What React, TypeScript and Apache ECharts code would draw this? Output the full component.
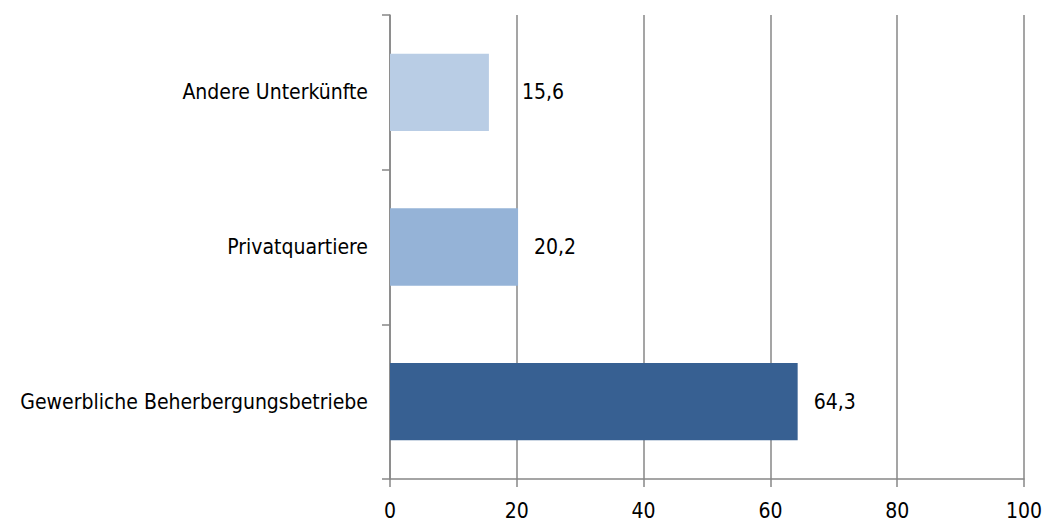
import React, { useEffect, useRef } from "react";
import * as echarts from "echarts";

const categories = ["Gewerbliche Beherbergungsbetriebe", "Privatquartiere", "Andere Unterkünfte"];
const values = [64.3, 20.2, 15.6];
const barColors = ["#376092", "#95B3D7", "#B9CDE5"];
const labelDistances = [16, 16, 33];

const FONT = "'DejaVu Sans Condensed', 'Liberation Sans', sans-serif";

export default function App() {
  const ref = useRef<HTMLDivElement>(null);
  useEffect(() => {
    document.body.style.margin = "0";
    const chart = echarts.init(ref.current!, null, { renderer: "svg" });
    chart.setOption({
      animation: false,
      backgroundColor: "#ffffff",
      grid: { left: 390, right: 21, top: 15, bottom: 45, containLabel: false, outerBoundsMode: "none" },
      xAxis: {
        type: "value",
        min: 0,
        max: 100,
        interval: 20,
        axisLine: { show: true, lineStyle: { color: "#878787", width: 1.5 } },
        axisTick: { show: true, length: 8, lineStyle: { color: "#878787", width: 1.5 } },
        splitLine: { show: true, lineStyle: { color: "#878787", width: 1.5 } },
        axisLabel: { color: "#000", fontSize: 21, fontFamily: FONT, margin: 21 },
      },
      yAxis: {
        type: "category",
        data: categories,
        axisLine: { show: true, lineStyle: { color: "#878787", width: 1.5 } },
        axisTick: { show: true, length: 8, alignWithLabel: false, lineStyle: { color: "#878787", width: 1.5 } },
        axisLabel: { color: "#000", fontSize: 21, fontFamily: FONT, margin: 22 },
        splitLine: { show: false },
      },
      series: [
        {
          type: "bar",
          barWidth: "50%",
          data: values.map((v, i) => ({
            value: v,
            itemStyle: { color: barColors[i] },
            label: { distance: labelDistances[i] },
          })),
          label: {
            show: true,
            position: "right",
            color: "#000",
            fontSize: 21,
            fontFamily: FONT,
            formatter: (p: any) => String(p.value).replace(".", ","),
          },
        },
      ],
    });
    return () => chart.dispose();
  }, []);
  return <div ref={ref} style={{ width: 1045, height: 524 }} />;
}
